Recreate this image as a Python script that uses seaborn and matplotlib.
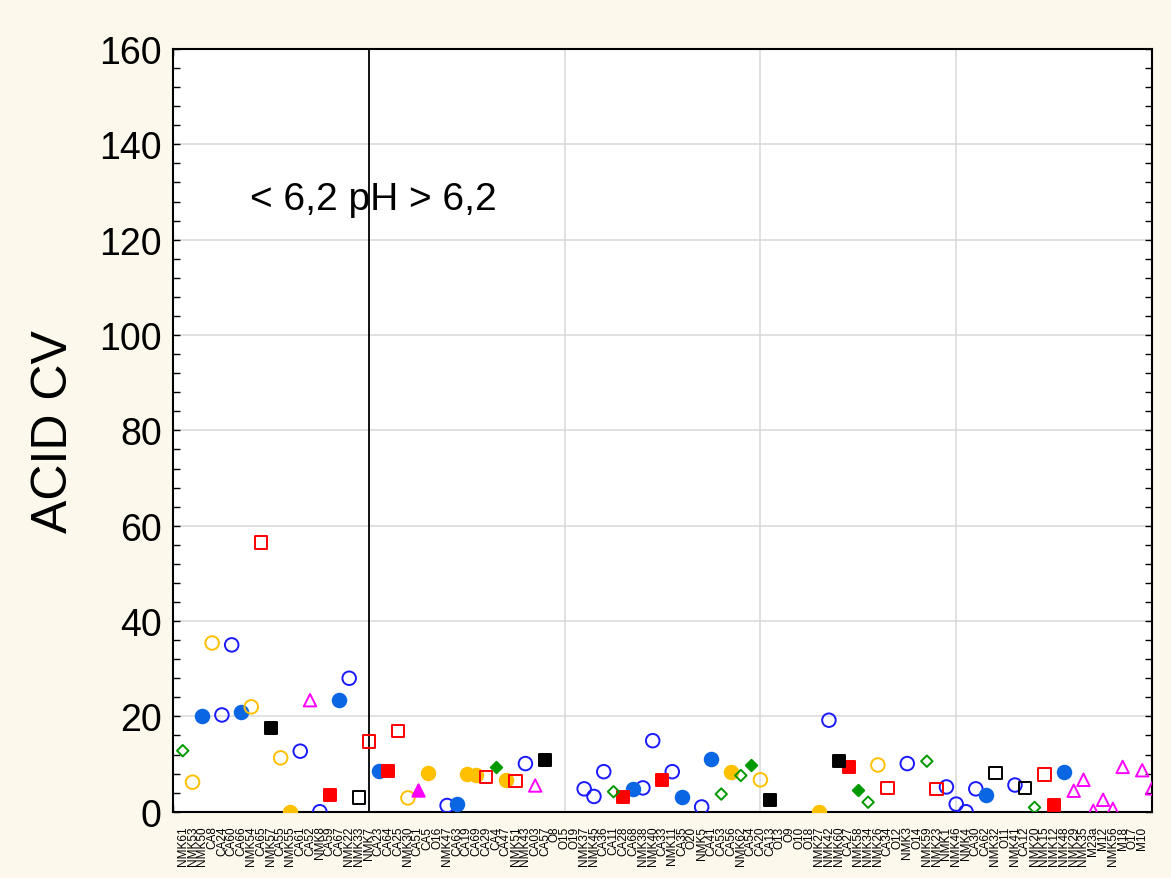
import numpy as np
import pandas as pd
import matplotlib
matplotlib.use("Agg")
import matplotlib.pyplot as plt
from matplotlib.ticker import MultipleLocator, FixedLocator
import seaborn as sns

# Sample codes along the x axis (ordered by pH)
labels = [
    "NMK61", "NMK53", "NMK50", "CA8", "CA24", "CA60", "CA66", "NMK54", "CA65", "NMK57",
    "CA55", "NMK55", "CA61", "CA52", "NMK8", "CA59", "CA67", "NMK22", "NMK33", "NMK7",
    "CA23", "CA64", "CA25", "NMK30", "CA51", "CA5", "O16", "NMK47", "CA63", "CA19",
    "CA69", "CA29", "CA4", "CA47", "NMK51", "NMK43", "CA03", "CA57", "O8", "O15",
    "O19", "NMK37", "NMK45", "CA36", "CA11", "CA28", "CA68", "NMK38", "NMK40", "CA33",
    "NMK11", "CA35", "O20", "NMK5", "CA41", "CA53", "CA56", "NMK62", "CA54", "CA20",
    "CA13", "O13", "O9", "O10", "O18", "NMK27", "NMK42", "NMK60", "CA27", "NMK58",
    "NMK34", "NMK26", "CA34", "O12", "NMK3", "O14", "NMK59", "NMK23", "NMK1", "NMK46",
    "NMK4", "CA30", "CA62", "NMK32", "O11", "NMK41", "CA12", "NMK20", "NMK15", "NMK12",
    "NMK48", "NMK29", "NMK35", "M23a", "M12", "NMK56", "M18", "O17", "M10", "",
]

nan = np.nan
acid_cv = [
    12.8, 6.2, 20.1, 35.4, 20.3, 35.0, 21.0, 22.0, 56.5, 17.5,
    11.3, 0.0, 12.7, 23.4, 0.0, 3.6, 23.4, 28.0, 3.0, 14.7,
    8.5, 8.5, 16.9, 2.9, 4.6, 8.1, nan, 1.3, 1.6, 7.9,
    7.6, 7.3, 9.4, 6.7, 6.4, 10.1, 5.5, 10.9, nan, nan,
    nan, 4.8, 3.2, 8.4, 4.2, 3.0, 4.7, 5.0, 14.9, 6.7,
    8.4, 3.0, nan, 1.0, 11.0, 3.7, 8.4, 7.6, 9.9, 6.7,
    2.5, nan, nan, nan, nan, 0.0, 19.2, 10.7, 9.3, 4.6,
    2.0, 9.8, 5.0, nan, 10.1, nan, 10.6, 4.8, 5.2, 1.6,
    0.0, 4.8, 3.6, 8.1, nan, 5.6, 5.0, 0.9, 7.8, 1.5,
    8.4, 4.4, 6.7, 0.2, 2.5, 0.6, 9.4, nan, 8.7, 4.9,
]

# Sample group of each point (symbol class)
group = [
    "go", "yo", "bf", "yo", "bo", "bo", "bf", "yo", "ro", "kf",
    "yo", "yf", "bo", "mo", "bo", "rf", "bf", "bo", "ko", "ro",
    "bf", "rf", "ro", "yo", "mf", "yf", "", "bo", "bf", "yf",
    "yf", "ro", "gf", "yf", "ro", "bo", "mo", "kf", "", "",
    "", "bo", "bo", "bo", "go", "rf", "bf", "bo", "bo", "rf",
    "bo", "bf", "", "bo", "bf", "go", "yf", "go", "gf", "yo",
    "kf", "", "", "", "", "yf", "bo", "kf", "rf", "gf",
    "go", "yo", "ro", "", "bo", "", "go", "ro", "bo", "bo",
    "bo", "bo", "bf", "ko", "", "bo", "ko", "go", "ro", "rf",
    "bf", "mo", "mo", "mo", "mo", "mo", "mo", "", "mo", "mo",
]

df = pd.DataFrame({
    "pos": np.arange(1, len(labels) + 1),
    "label": labels,
    "acid_cv": acid_cv,
    "group": group,
}).dropna(subset=["acid_cv"])

BLUE = "#1a1aff"
BLUE_F = "#0b66e4"
ORANGE = "#ffc000"
RED = "#ff0000"
GREEN = "#009a00"
MAGENTA = "#ff00ff"

STYLES = {
    "bo": dict(marker="o", fc="none", ec=BLUE, s=95),
    "bf": dict(marker="o", fc=BLUE_F, ec=BLUE_F, s=95),
    "yo": dict(marker="o", fc="none", ec=ORANGE, s=95),
    "yf": dict(marker="o", fc=ORANGE, ec=ORANGE, s=95),
    "ro": dict(marker="s", fc="none", ec=RED, s=80),
    "rf": dict(marker="s", fc=RED, ec=RED, s=80),
    "ko": dict(marker="s", fc="none", ec="black", s=80),
    "kf": dict(marker="s", fc="black", ec="black", s=80),
    "go": dict(marker="D", fc="none", ec=GREEN, s=34),
    "gf": dict(marker="D", fc=GREEN, ec=GREEN, s=34),
    "mo": dict(marker="^", fc="none", ec=MAGENTA, s=80),
    "mf": dict(marker="^", fc=MAGENTA, ec=MAGENTA, s=80),
}

sns.set_style("white")
plt.rcParams["font.family"] = ["Liberation Sans", "DejaVu Sans"]
plt.rcParams.update({
    "text.color": "black",
    "axes.labelcolor": "black",
    "xtick.color": "black",
    "ytick.color": "black",
})

fig = plt.figure(figsize=(11.71, 8.79), dpi=100, facecolor="#fdf8ec")
ax = fig.add_axes([0.1477, 0.0754, 0.9838 - 0.1477, 0.9431 - 0.0754])
ax.set_facecolor("white")

# grid lines
for yv in range(20, 160, 20):
    ax.axhline(yv, color="#d8d8d8", lw=1.1, zorder=0)
for xv in (40, 60, 80):
    ax.axvline(xv, color="#d8d8d8", lw=1.1, zorder=0)
ax.axvline(20, color="black", lw=1.3, zorder=1)

for code, st in STYLES.items():
    sub = df[df["group"] == code]
    if sub.empty:
        continue
    sns.scatterplot(
        data=sub, x="pos", y="acid_cv", ax=ax,
        marker=st["marker"], s=st["s"],
        facecolor=st["fc"], edgecolor=st["ec"],
        linewidth=1.4, zorder=3, legend=False,
    )

ax.set_xlim(0, 100)
ax.set_ylim(0, 160)

# category labels
ax.xaxis.set_major_locator(FixedLocator(list(range(1, len(labels) + 1))))
ax.set_xticklabels(labels, rotation=90, fontsize=8.5)
ax.xaxis.set_minor_locator(MultipleLocator(4))
ax.tick_params(axis="x", which="major", length=0, pad=10)
ax.tick_params(axis="x", which="minor", direction="in", length=5, width=1,
               top=True, bottom=True)

ax.yaxis.set_major_locator(MultipleLocator(20))
ax.yaxis.set_minor_locator(MultipleLocator(4))
ax.tick_params(axis="y", which="both", direction="in", length=5, width=1,
               left=True, right=True, labelsize=27, pad=8)

for sp in ax.spines.values():
    sp.set_color("black")
    sp.set_linewidth(1.5)

ax.set_xlabel("")
ax.set_ylabel("ACID CV", fontsize=36, labelpad=16)

ax.text(7.9, 128.5, "< 6,2 pH > 6,2", fontsize=28, ha="left", va="center")

fig.savefig("out.png", dpi=100, facecolor=fig.get_facecolor())
